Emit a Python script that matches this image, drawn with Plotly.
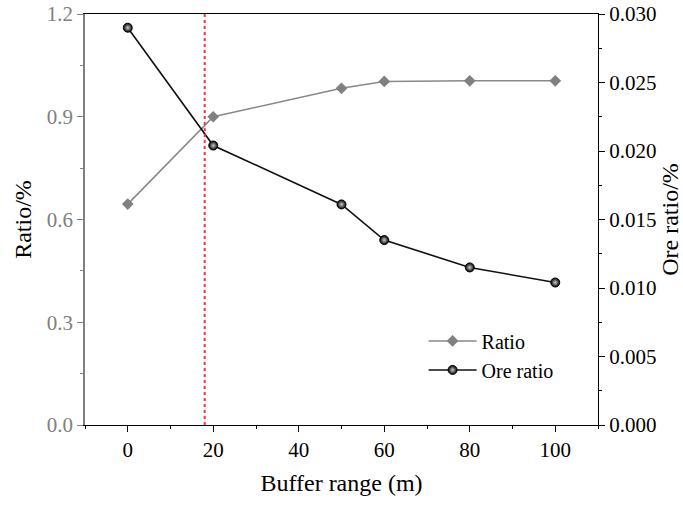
import plotly.graph_objects as go

buffer_range = [0, 20, 50, 60, 80, 100]
ratio = [0.645, 0.900, 0.983, 1.003, 1.005, 1.005]
ore_ratio = [0.0290, 0.0204, 0.0161, 0.0135, 0.0115, 0.0104]
threshold_x = 18

FONT = "Liberation Serif"

fig = go.Figure()
fig.add_trace(go.Scatter(
    x=buffer_range, y=ratio, name="Ratio", mode="lines+markers",
    line=dict(color="#888888", width=1.6),
    marker=dict(symbol="diamond", size=9, color="#808080"),
    yaxis="y"))
fig.add_trace(go.Scatter(
    x=buffer_range, y=ore_ratio, name="Ore ratio", mode="lines+markers",
    line=dict(color="#111111", width=1.6),
    marker=dict(symbol="circle", size=9, color="#000000",
                gradient=dict(type="radial", color="#cccccc"),
                line=dict(color="#000000", width=1)),
    yaxis="y2"))

fig.add_shape(type="line", x0=threshold_x, x1=threshold_x, xref="x",
              y0=0, y1=1, yref="paper",
              line=dict(color="#ff3333", width=2, dash="dot"))

fig.update_layout(
    width=683, height=505,
    margin=dict(l=85, r=85, t=14, b=80, autoexpand=False),
    paper_bgcolor="white", plot_bgcolor="white",
    font=dict(family=FONT, size=22, color="#000"),
    showlegend=True,
    legend=dict(x=0.66, y=0.252, xanchor="left", yanchor="top",
                bgcolor="rgba(0,0,0,0)", font=dict(size=20, family=FONT),
                tracegroupgap=0, itemwidth=48),
    xaxis=dict(range=[-10, 110], tickvals=[0, 20, 40, 60, 80, 100],
               ticks="outside", ticklen=6, tickwidth=1.3, tickcolor="#000",
               minor=dict(dtick=10, tick0=0, ticks="outside", ticklen=3, tickcolor="#000"),
               showline=True, linecolor="#000", linewidth=1.3, mirror=True,
               showgrid=False, zeroline=False, automargin=False,
               tickfont=dict(size=21, family=FONT, color="#000"),
               title=dict(text="Buffer range (m)", font=dict(size=24, family=FONT), standoff=12)),
    yaxis=dict(range=[0, 1.2], tickvals=[0, 0.3, 0.6, 0.9, 1.2], tickformat=".1f",
               ticks="outside", ticklen=6, tickwidth=1.3, tickcolor="#808080",
               minor=dict(dtick=0.15, tick0=0, ticks="outside", ticklen=3, tickcolor="#808080"),
               showline=True, linecolor="#808080", linewidth=1.5,
               showgrid=False, zeroline=False, automargin=False,
               tickfont=dict(size=21, family=FONT, color="#808080"),
               title=dict(text="Ratio/%", font=dict(size=24, family=FONT, color="#000"), standoff=8)),
    yaxis2=dict(range=[0, 0.03], tickvals=[0, 0.005, 0.01, 0.015, 0.02, 0.025, 0.03],
                tickformat=".3f", overlaying="y", side="right",
                ticks="outside", ticklen=6, tickwidth=1.3, tickcolor="#000",
                minor=dict(dtick=0.0025, tick0=0, ticks="outside", ticklen=3, tickcolor="#000"),
                showline=True, linecolor="#000", linewidth=1.3,
                showgrid=False, zeroline=False, automargin=False,
                tickfont=dict(size=21, family=FONT, color="#000"),
                title=dict(text="Ore ratio/%", font=dict(size=24, family=FONT), standoff=10)),
)

fig.write_html("out.html")
